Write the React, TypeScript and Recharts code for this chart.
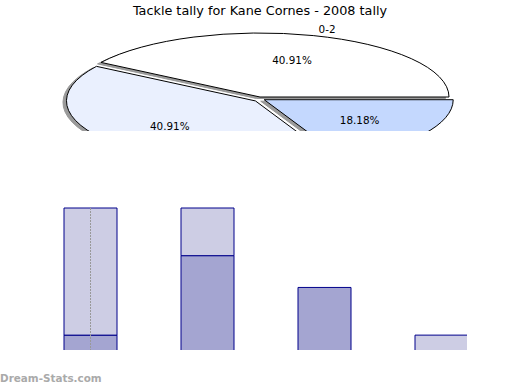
import React from 'react';
import { PieChart, Pie, BarChart, Bar, XAxis, YAxis, ReferenceLine } from 'recharts';

const TITLE = 'Tackle tally for Kane Cornes - 2008 tally';

// pie: share of games per tally band
const pieNames = ['0-2', '3-5', '6+'];
const pieValues = [9, 9, 4];
const pieColors = ['#ffffff', '#eaf0fe', '#c4d8fe'];
const pieExplode = [0, 6, 5];

// stacked bars
const barCats = ['1', '2', '3', '4'];
const darkValues = [1, 6, 4, 0];
const lightValues = [8, 3, 0, 1];

const pieData = pieNames.map((name, i) => ({ name, value: pieValues[i], idx: i }));
const barData = barCats.map((cat, i) => ({ cat, dark: darkValues[i], light: lightValues[i] }));

const RAD = Math.PI / 180;
const SQUASH = 64 / 189;
const PIE_H = 131;
const FONT = '"DejaVu Sans", sans-serif';

function wedgePath(cx: number, cy: number, rx: number, start: number, end: number, off: number) {
  const ry = rx * SQUASH;
  const mid = ((start + end) / 2) * RAD;
  const ox = cx + off * Math.cos(mid);
  const oy = cy - off * Math.sin(mid);
  const pt = (a: number) => [ox + rx * Math.cos(a * RAD), oy - ry * Math.sin(a * RAD)];
  const [x1, y1] = pt(start);
  const [x2, y2] = pt(end);
  const large = end - start > 180 ? 1 : 0;
  return `M${ox},${oy} L${x1},${y1} A${rx},${ry} 0 ${large} 0 ${x2},${y2} Z`;
}

function idxOf(p: any) {
  return p.payload?.idx ?? p.idx ?? p.index ?? 0;
}

const renderShadow = (p: any) => {
  const i = idxOf(p);
  return (
    <path
      key={`s${i}`}
      d={wedgePath(p.cx, p.cy, p.outerRadius, p.startAngle, p.endAngle, pieExplode[i])}
      transform="translate(-3.5,1.5)"
      fill="#9a9a9a"
      stroke="#9a9a9a"
    />
  );
};

const renderWedge = (p: any) => {
  const i = idxOf(p);
  return (
    <path
      key={`w${i}`}
      d={wedgePath(p.cx, p.cy, p.outerRadius, p.startAngle, p.endAngle, pieExplode[i])}
      fill={pieColors[i]}
      stroke="#000"
      strokeWidth={1}
    />
  );
};

const renderText = (p: any) => {
  const i = idxOf(p);
  const rx = p.outerRadius;
  const ry = rx * SQUASH;
  const mid = p.midAngle * RAD;
  const c = Math.cos(mid);
  const s = Math.sin(mid);
  const ox = p.cx + pieExplode[i] * c;
  const oy = p.cy - pieExplode[i] * s;
  const nameY = oy - ry * s * 1.1;
  return (
    <g key={`t${i}`} fontFamily={FONT} fontSize={10.4} fill="#000">
      <text x={ox + rx * c * 0.6} y={oy - ry * s * 0.6} textAnchor="middle" dominantBaseline="central">
        {(p.percent * 100).toFixed(2)}%
      </text>
      {/* outer names below the cut of the plot are not visible */}
      {nameY < PIE_H - 6 && (
        <text x={ox + rx * c * 1.1} y={nameY} textAnchor={c >= 0 ? 'start' : 'end'} dominantBaseline="central">
          {p.name}
        </text>
      )}
    </g>
  );
};

export default function App() {
  return (
    <div style={{ position: 'absolute', left: 0, top: 0, width: 520, height: 390, background: '#fff', fontFamily: FONT, overflow: 'hidden' }}>
      <div style={{ position: 'absolute', left: 0, top: 3, width: 520, textAlign: 'center', fontSize: 12.8, lineHeight: '15px', color: '#000' }}>
        {TITLE}
      </div>
      <div style={{ position: 'absolute', left: 0, top: 0, width: 520, height: PIE_H, overflow: 'hidden' }}>
        <PieChart width={520} height={PIE_H} margin={{ top: 0, right: 0, bottom: 0, left: 0 }}>
          {[renderShadow, renderWedge, renderText].map((fn, k) => (
            <Pie
              key={k}
              data={pieData}
              dataKey="value"
              nameKey="name"
              cx={260}
              cy={97}
              outerRadius={189}
              startAngle={0}
              endAngle={360}
              fill="none"
              stroke="none"
              label={fn}
              labelLine={false}
              isAnimationActive={false}
            />
          ))}
        </PieChart>
      </div>
      <div style={{ position: 'absolute', left: 0, top: 190, width: 467, height: 160, overflow: 'hidden' }}>
        <BarChart width={520} height={200} data={barData} margin={{ top: 18, right: 20, bottom: 39, left: 32 }}>
          <XAxis dataKey="cat" hide />
          <YAxis hide domain={[0, 9]} />
          <Bar dataKey="dark" stackId="a" barSize={53} fill="#a4a5d1" stroke="#00008b" strokeWidth={1} isAnimationActive={false} />
          <Bar dataKey="light" stackId="a" barSize={53} fill="#cdcde4" stroke="#00008b" strokeWidth={1} isAnimationActive={false} />
          <ReferenceLine x="1" stroke="#999" strokeDasharray="2 1" strokeWidth={1} />
        </BarChart>
      </div>
      <div style={{ position: 'absolute', left: 0, top: 372, fontSize: 10.4, lineHeight: '13px', fontWeight: 'bold', color: '#aaaaaa' }}>
        Dream-Stats.com
      </div>
    </div>
  );
}
